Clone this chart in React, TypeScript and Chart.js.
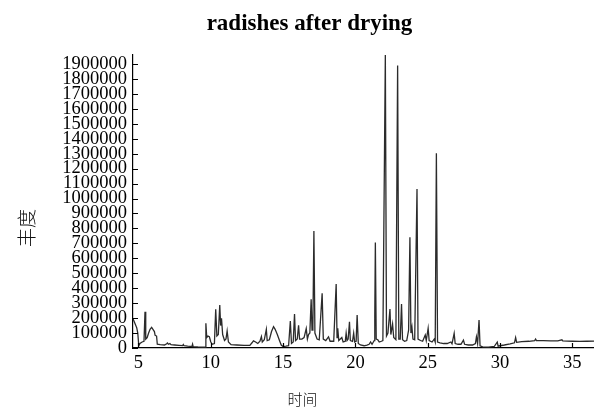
import React, { useEffect, useRef } from "react";
import { Chart, registerables } from "chart.js";

Chart.register(...registerables);

const chartTitle = "radishes after drying";
const xAxisTitle = "时间";
const yAxisTitle = "丰度";

const xTickValues = [5, 10, 15, 20, 25, 30, 35];
const yTickValues = [
  0, 100000, 200000, 300000, 400000, 500000, 600000, 700000, 800000, 900000,
  1000000, 1100000, 1200000, 1300000, 1400000, 1500000, 1600000, 1700000,
  1800000, 1900000,
];

// retention time (min)
const timeMin = [
  4.62, 4.75, 4.88, 4.95, 5.02, 5.1, 5.25, 5.38, 5.45, 5.5, 5.6, 5.7, 5.8, 5.91,
  6.0, 6.1, 6.15, 6.25, 6.3, 6.5, 6.8, 6.95, 7.0, 7.07, 7.17, 7.25, 7.5, 7.8,
  8.05, 8.1, 8.15, 8.4, 8.7, 8.74, 8.78, 9.1, 9.4, 9.62, 9.66, 9.72, 9.8, 9.9,
  10.0, 10.1, 10.25, 10.34, 10.42, 10.52, 10.62, 10.68, 10.74, 10.82, 10.95,
  11.05, 11.13, 11.22, 11.4, 11.8, 12.3, 12.7, 12.85, 12.95, 13.1, 13.25, 13.4,
  13.5, 13.56, 13.7, 13.84, 13.9, 14.05, 14.2, 14.34, 14.45, 14.6, 14.75,
  14.87, 15.0, 15.2, 15.38, 15.5, 15.58, 15.7, 15.79, 15.86, 15.98, 16.07,
  16.14, 16.3, 16.45, 16.6, 16.68, 16.76, 16.85, 16.94, 17.0, 17.06, 17.13,
  17.2, 17.35, 17.5, 17.7, 17.78, 17.95, 18.14, 18.25, 18.5, 18.67, 18.73,
  18.78, 18.85, 19.06, 19.15, 19.3, 19.36, 19.42, 19.5, 19.59, 19.65, 19.8,
  19.88, 19.95, 20.05, 20.12, 20.2, 20.35, 20.6, 20.8, 20.95, 21.05, 21.15,
  21.3, 21.34, 21.38, 21.44, 21.55, 21.65, 21.8, 21.9, 22.07, 22.15, 22.25,
  22.39, 22.45, 22.57, 22.65, 22.8, 22.92, 23.0, 23.1, 23.19, 23.26, 23.4,
  23.55, 23.68, 23.77, 23.84, 23.91, 23.98, 24.1, 24.26, 24.33, 24.5, 24.65,
  24.83, 24.9, 25.03, 25.1, 25.3, 25.45, 25.52, 25.6, 25.68, 25.85, 26.1,
  26.35, 26.6, 26.68, 26.83, 26.9, 27.1, 27.3, 27.47, 27.55, 27.8, 28.1, 28.3,
  28.37, 28.45, 28.55, 28.62, 28.8, 29.2, 29.6, 29.81, 29.87, 30.0, 30.3, 30.7,
  31.0, 31.08, 31.15, 31.5, 32.0, 32.4, 32.46, 32.52, 33.0, 33.5, 34.0, 34.28,
  34.34, 35.0, 35.5, 36.0, 36.5,
];

// abundance
const abundance = [
  195000, 165000, 135000, 100000, 15000, 30000, 40000, 45000, 243000, 60000,
  70000, 100000, 125000, 138000, 125000, 110000, 85000, 80000, 25000, 22000,
  20000, 28000, 33000, 25000, 30000, 22000, 20000, 18000, 16000, 23000, 15000,
  12000, 10000, 25000, 9000, 7000, 6000, 6000, 165000, 70000, 80000, 75000,
  40000, 25000, 30000, 259000, 80000, 90000, 288000, 150000, 199000, 90000,
  50000, 60000, 114000, 40000, 22000, 20000, 17000, 18000, 35000, 48000, 40000,
  30000, 45000, 76000, 40000, 55000, 125000, 50000, 55000, 110000, 143000,
  125000, 90000, 50000, 20000, 10000, 12000, 15000, 180000, 30000, 40000,
  228000, 50000, 60000, 152000, 60000, 60000, 70000, 130000, 60000, 90000,
  100000, 326000, 120000, 150000, 783000, 100000, 60000, 55000, 366000, 60000,
  50000, 75000, 45000, 45000, 428000, 70000, 132000, 50000, 70000, 40000,
  45000, 100000, 50000, 60000, 176000, 50000, 45000, 100000, 40000, 45000,
  221000, 30000, 20000, 15000, 20000, 25000, 40000, 25000, 50000, 220000,
  705000, 60000, 55000, 40000, 45000, 50000, 1960000, 80000, 100000, 261000,
  90000, 160000, 70000, 55000, 1890000, 60000, 60000, 294000, 55000, 45000,
  50000, 120000, 741000, 100000, 140000, 60000, 55000, 1064000, 60000, 50000,
  45000, 87000, 50000, 132000, 50000, 40000, 60000, 40000, 1303000, 40000,
  35000, 30000, 30000, 40000, 28000, 98000, 30000, 25000, 25000, 53000, 25000,
  20000, 20000, 30000, 75000, 30000, 187000, 15000, 8000, 6000, 10000, 40000,
  12000, 15000, 20000, 28000, 35000, 70000, 38000, 42000, 45000, 50000, 60000,
  50000, 50000, 48000, 48000, 55000, 47000, 45000, 44000, 45000, 46000,
];

const X_MIN = 4.62;
const X_MAX = 36.5;
const Y_MIN = 0;
const Y_MAX = 1960000;

const innerTicksAndTitles = {
  id: "innerTicksAndTitles",
  afterDraw(chart: any) {
    const { ctx, chartArea } = chart;
    const xs = chart.scales.x;
    const ys = chart.scales.y;
    ctx.save();
    ctx.strokeStyle = "#000";
    ctx.lineWidth = 1.2;
    ctx.beginPath();
    for (const t of xs.ticks) {
      const px = Math.round(xs.getPixelForValue(t.value)) + 0.5;
      ctx.moveTo(px, chartArea.bottom);
      ctx.lineTo(px, chartArea.bottom - 5);
    }
    for (const t of ys.ticks) {
      const py = Math.round(ys.getPixelForValue(t.value)) + 0.5;
      ctx.moveTo(chartArea.left, py);
      ctx.lineTo(chartArea.left + 5, py);
    }
    ctx.stroke();

    ctx.fillStyle = "#111";
    ctx.textAlign = "center";
    ctx.textBaseline = "middle";
    ctx.font = "300 15px 'Noto Sans CJK SC'";
    ctx.fillText(xAxisTitle, 302.5, 399);
    ctx.translate(26.5, 228);
    ctx.rotate(-Math.PI / 2);
    ctx.font = "300 19px 'Noto Sans CJK SC'";
    ctx.fillText(yAxisTitle, 0, 0);
    ctx.restore();
  },
};

export default function App() {
  const canvasRef = useRef<HTMLCanvasElement | null>(null);

  useEffect(() => {
    if (!canvasRef.current) return;
    const points = timeMin.map((t, i) => ({ x: t, y: abundance[i] }));
    const serif = "'Liberation Serif', 'Times New Roman', serif";
    const chart = new Chart(canvasRef.current, {
      type: "line",
      data: {
        datasets: [
          {
            data: points,
            borderColor: "#2b2b2b",
            borderWidth: 1.3,
            pointRadius: 0,
            tension: 0,
            fill: false,
          },
        ],
      },
      options: {
        animation: false,
        responsive: false,
        devicePixelRatio: 1,
        layout: { padding: { left: 25, top: 0, right: 0, bottom: 0 } },
        plugins: {
          legend: { display: false },
          tooltip: { enabled: false },
          title: {
            display: true,
            text: chartTitle,
            color: "#000",
            font: { family: serif, size: 23, weight: "bold" },
            padding: { top: 10, bottom: 17.4 },
            fullSize: true,
          },
        },
        scales: {
          x: {
            type: "linear",
            min: X_MIN,
            max: X_MAX,
            afterBuildTicks: (scale: any) => {
              scale.ticks = xTickValues.map((v) => ({ value: v }));
            },
            afterFit: (scale: any) => {
              scale.height = 59;
            },
            grid: { display: false, drawTicks: false },
            border: { display: true, color: "#000", width: 1.2 },
            ticks: {
              color: "#000",
              font: { family: serif, size: 18.5 },
              padding: 4,
              maxRotation: 0,
              autoSkip: false,
              callback: (v: any) => String(v),
            },
          },
          y: {
            type: "linear",
            min: Y_MIN,
            max: Y_MAX,
            afterBuildTicks: (scale: any) => {
              scale.ticks = yTickValues.map((v) => ({ value: v }));
            },
            afterFit: (scale: any) => {
              scale.width = 108;
            },
            grid: { display: false, drawTicks: false },
            border: { display: true, color: "#000", width: 1.2 },
            ticks: {
              color: "#000",
              font: { family: serif, size: 18.5 },
              padding: 6,
              autoSkip: false,
              callback: (v: any) => String(v),
            },
          },
        },
      },
      plugins: [innerTicksAndTitles],
    });
    return () => chart.destroy();
  }, []);

  return (
    <div style={{ position: "fixed", left: 0, top: 0, width: 594, height: 407, background: "#fff" }}>
      <canvas ref={canvasRef} width={594} height={407} style={{ display: "block" }} />
    </div>
  );
}
